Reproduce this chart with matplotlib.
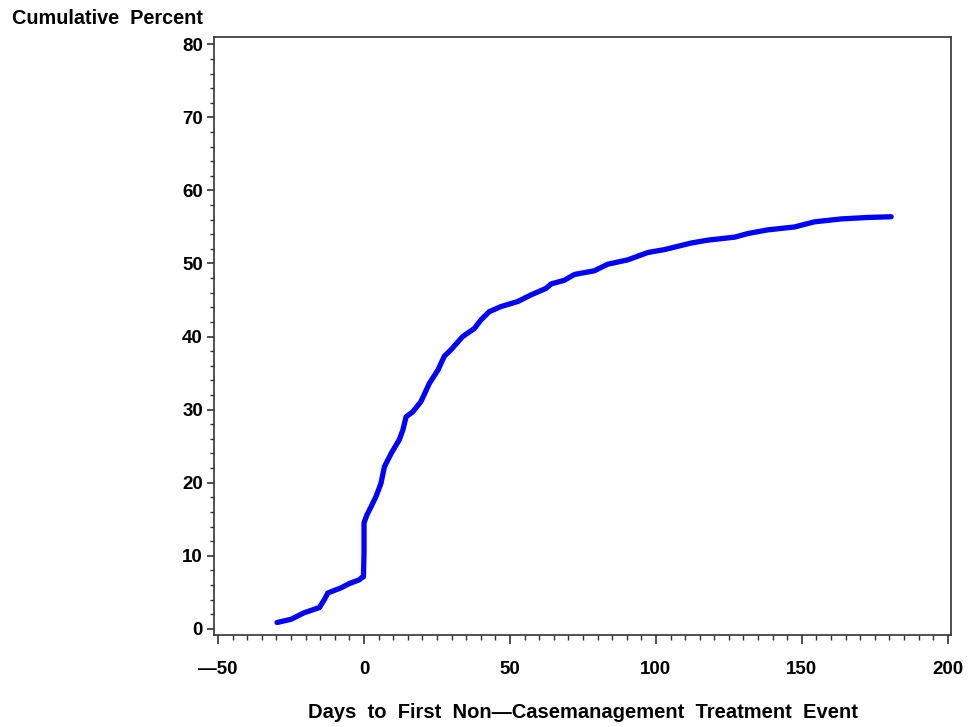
import matplotlib
matplotlib.use("Agg")
import matplotlib.pyplot as plt
from matplotlib.ticker import MultipleLocator

# points (days, cumulative percent)
days = [-29.8, -25.0, -20.5, -15.3, -13.6, -12.4, -7.9, -5.0, -1.6, -0.8, -0.2,
        0.0, 0.0, 0.0, 1.0, 2.4, 4.1, 5.8, 7.0, 9.3, 12.1, 13.3, 14.4, 16.7,
        19.5, 22.4, 25.3, 27.5, 29.8, 33.8, 37.8, 40.1, 42.9, 46.9, 52.7,
        57.2, 62.4, 64.1, 68.6, 72.1, 78.9, 83.5, 90.4, 97.2, 102.9, 112.1,
        117.8, 126.9, 131.5, 138.3, 147.5, 154.3, 163.5, 172.6, 180.6]
cum_pct = [0.86, 1.3, 2.2, 2.9, 4.0, 4.9, 5.6, 6.2, 6.7, 7.0, 7.1,
           10.4, 13.5, 14.5, 15.6, 16.7, 18.1, 19.9, 22.2, 24.0, 25.9, 27.2, 29.0, 29.7,
           31.1, 33.6, 35.4, 37.3, 38.2, 40.0, 41.1, 42.3, 43.4, 44.1, 44.8,
           45.7, 46.6, 47.2, 47.7, 48.5, 49.0, 49.9, 50.5, 51.5, 51.9, 52.8,
           53.2, 53.6, 54.1, 54.6, 55.0, 55.7, 56.1, 56.3, 56.4]

x_ticks = [-50, 0, 50, 100, 150, 200]
x_tick_labels = ['\u201450', '0', '50', '100', '150', '200']
y_ticks = [0, 10, 20, 30, 40, 50, 60, 70, 80]

plt.rcParams['font.family'] = ['Liberation Sans', 'DejaVu Sans']
plt.rcParams['font.weight'] = 'bold'

fig = plt.figure(figsize=(9.71, 7.27), dpi=100)
ax = fig.add_axes([214/971, 1-635/727, (951-214)/971, (635-37)/727])

ax.plot(days, cum_pct, color=(0, 0, 1), lw=3.8, solid_capstyle='round',
        solid_joinstyle='round')

ax.set_xlim(-51.4, 201.1)
ax.set_ylim(-0.85, 81.0)
ax.set_xticks(x_ticks)
ax.set_xticklabels(x_tick_labels)
ax.set_yticks(y_ticks)
ax.xaxis.set_minor_locator(MultipleLocator(5))
ax.yaxis.set_minor_locator(MultipleLocator(2))
ax.tick_params(axis='both', which='major', labelsize=13.5, width=1.2, color='#333333')
ax.tick_params(axis='x', which='major', length=6.5, pad=12)
ax.tick_params(axis='y', which='major', length=5, pad=3)
ax.tick_params(axis='x', which='minor', length=3.5, width=1, color='#333333')
ax.tick_params(axis='y', which='minor', length=3, width=1, color='#333333')
for lab in ax.get_xticklabels() + ax.get_yticklabels():
    lab.set_fontweight('bold')
for s in ax.spines.values():
    s.set_linewidth(1.2)
    s.set_color('#333333')

fig.text(12/971, 1-18/727, 'Cumulative  Percent', fontsize=14.3, fontweight='bold',
         ha='left', va='center')
fig.text(583/971, 1-712/727, 'Days  to  First  Non\u2014Casemanagement  Treatment  Event',
         fontsize=14.5, fontweight='bold', ha='center', va='center')

fig.savefig('out.png', dpi=100)
